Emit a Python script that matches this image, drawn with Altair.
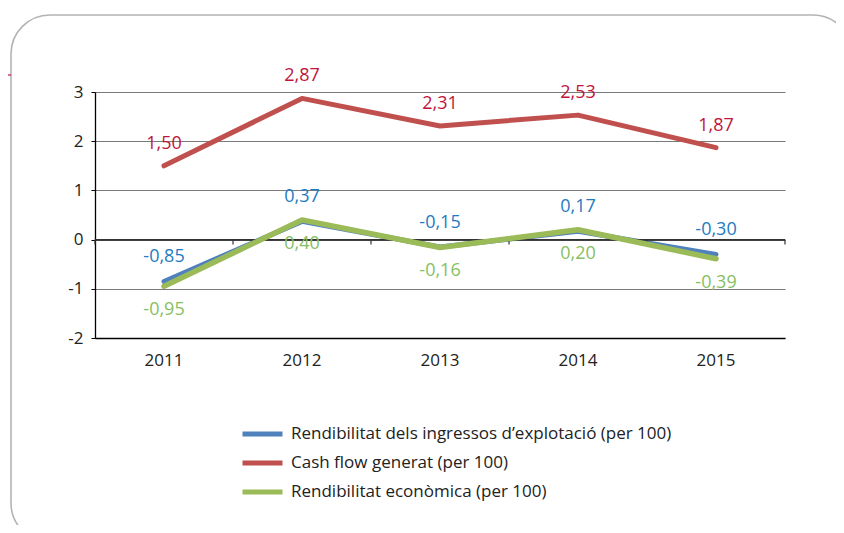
import altair as alt
import pandas as pd

years = ["2011", "2012", "2013", "2014", "2015"]
rend_ingressos = [-0.85, 0.37, -0.15, 0.17, -0.30]
cash_flow = [1.50, 2.87, 2.31, 2.53, 1.87]
rend_economica = [-0.95, 0.40, -0.16, 0.20, -0.39]

series_names = [
    "Rendibilitat dels ingressos d\u2019explotació (per 100)",
    "Cash flow generat (per 100)",
    "Rendibilitat econòmica (per 100)",
]
line_colors = ["#4f81bd", "#c0504d", "#9bbb59"]
text_colors = ["#1f7bc1", "#c0143c", "#86c063"]
label_dy = [-24, -22, 24]
line_widths = [5, 5, 5.5]

values = [rend_ingressos, cash_flow, rend_economica]
rows = []
for name, vals in zip(series_names, values):
    for yr, v in zip(years, vals):
        rows.append({"any": yr, "serie": name, "valor": v,
                     "etiqueta": f"{v:.2f}".replace(".", ",")})
df = pd.DataFrame(rows)
df_years = pd.DataFrame({"any": years})

FONT = "Open Sans"
W, H = 690, 246

xscale = alt.Scale(type="band", domain=years, paddingInner=0, paddingOuter=0)
yscale = alt.Scale(domain=[-2, 3], nice=False, zero=False)
cscale = alt.Scale(domain=series_names, range=line_colors)

x_axis = alt.Axis(orient="bottom", title=None, ticks=False, grid=False,
                  domainColor="#000000", domainWidth=1.3, labelAngle=0,
                  labelPadding=14, labelFontSize=17, labelColor="#222222",
                  labelFont=FONT)
y_axis = alt.Axis(title=None, values=[-2, -1, 0, 1, 2, 3], grid=True,
                  gridColor="#7a7a7a", gridWidth=1.2, domainColor="#000000",
                  domainWidth=1.3, tickColor="#000000", tickSize=4,
                  labelPadding=8, labelFontSize=17, labelColor="#222222",
                  labelFont=FONT, labelExpr="'' + datum.value")

legend = alt.Legend(orient="none", legendX=145, legendY=330, title=None,
                    symbolType="stroke", symbolSize=1600, symbolStrokeWidth=5,
                    labelFontSize=17, labelFont=FONT, labelColor="#222222",
                    labelOffset=6, clipHeight=24, rowPadding=5, padding=0,
                    labelLimit=700)

box = alt.Chart(pd.DataFrame({"a": [0]})).mark_rect(
    fill=None, stroke="#b4b4b4", strokeWidth=1.6, cornerRadius=39
).encode(x=alt.value(-84), x2=alt.value(757), y=alt.value(-77), y2=alt.value(450))

red_mark = alt.Chart(pd.DataFrame({"a": [0]})).mark_rule(
    color="#c0143c", strokeWidth=1.2
).encode(x=alt.value(-87), x2=alt.value(-84), y=alt.value(-17))

layers = [box, red_mark]

zero_line = alt.Chart(df_years).mark_rule(color="#333333", strokeWidth=1.3).encode(
    y=alt.datum(0, scale=yscale),
)
ticks_left = alt.Chart(df_years).mark_rule(color="#333333", strokeWidth=1.2, y2Offset=5).encode(
    x=alt.X("any:N", scale=xscale, bandPosition=0),
    y=alt.datum(0, scale=yscale),
    y2=alt.datum(0),
)
ticks_right = alt.Chart(df_years).transform_filter(
    alt.datum.any == years[-1]
).mark_rule(color="#333333", strokeWidth=1.2, y2Offset=5).encode(
    x=alt.X("any:N", scale=xscale, bandPosition=1),
    y=alt.datum(0, scale=yscale),
    y2=alt.datum(0),
)

for i, name in enumerate(series_names):
    line = alt.Chart(df).transform_filter(
        alt.datum.serie == name
    ).mark_line(strokeWidth=line_widths[i], strokeCap="round", strokeJoin="round").encode(
        x=alt.X("any:N", scale=xscale, axis=x_axis, bandPosition=0.5),
        y=alt.Y("valor:Q", scale=yscale, axis=y_axis),
        color=alt.Color("serie:N", scale=cscale, legend=legend),
    )
    layers.append(line)
    if i == 0:
        layers += [zero_line, ticks_left, ticks_right]

for i, name in enumerate(series_names):
    txt = alt.Chart(df).transform_filter(
        alt.datum.serie == name
    ).mark_text(color=text_colors[i], fontSize=18, font=FONT, dy=label_dy[i],
                baseline="middle", align="center").encode(
        x=alt.X("any:N", scale=xscale, bandPosition=0.5),
        y=alt.Y("valor:Q", scale=yscale),
        text="etiqueta:N",
    )
    layers.append(txt)

chart = alt.layer(*layers).properties(
    width=W, height=H,
    padding={"left": 87, "top": 84, "right": 51, "bottom": 187},
    autosize=alt.AutoSizeParams(type="none"),
).configure(font=FONT).configure_view(stroke=None)

chart.save("out.html", embed_options={"renderer": "svg", "actions": False})
